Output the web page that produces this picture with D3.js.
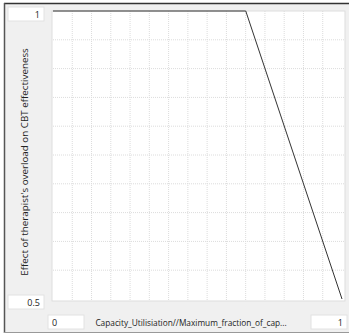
<!DOCTYPE html>
<html><head><meta charset="utf-8">
<script src="https://cdn.jsdelivr.net/npm/d3@7"></script>
<style>html,body{margin:0;padding:0;background:#fff;}svg{display:block;}</style>
</head><body>
<script>
const xValues = [0, 0.667, 1];
const yValues = [1, 1, 0.5];
const xDomain = [0, 1];
const yDomain = [0.5, 1];
const xTickLabels = ["0", "1"];
const yTickLabels = ["1", "0.5"];
const xTitle = "Capacity_Utilisiation//Maximum_fraction_of_cap...";
const yTitle = "Effect of therapist's overload on CBT effectiveness";

const W = 349, H = 333;
const font = "'Open Sans', 'Noto Sans', sans-serif";
const svg = d3.select("body").append("svg").attr("width", W).attr("height", H);

svg.append("rect").attr("width", W).attr("height", H).attr("fill", "#f0f0f0");
// frame
svg.append("rect").attr("x", 0).attr("y", 0).attr("width", W).attr("height", 3).attr("fill", "#fff");
svg.append("rect").attr("x", 0).attr("y", 0).attr("width", 4).attr("height", H).attr("fill", "#fff");
svg.append("line").attr("x1", 4).attr("x2", W).attr("y1", 3.5).attr("y2", 3.5).attr("stroke", "#333").attr("stroke-width", 1.5);
svg.append("line").attr("x1", 4.5).attr("x2", 4.5).attr("y1", 3).attr("y2", H).attr("stroke", "#555").attr("stroke-width", 1.5);
svg.append("line").attr("x1", 4).attr("x2", W).attr("y1", H - 0.5).attr("y2", H - 0.5).attr("stroke", "#999");

const L = 53, R = 342, T = 11, B = 299;
const x = d3.scaleLinear().domain(xDomain).range([L, R]);
const y = d3.scaleLinear().domain(yDomain).range([B, T]);

svg.append("rect").attr("x", L - 1).attr("y", T).attr("width", R - L + 4).attr("height", B - T + 2)
  .attr("fill", "#fff").attr("stroke", "#ddd");

const g = svg.append("g");
g.selectAll(".vg").data(d3.range(1, 15).map(i => i / 15)).join("line")
  .attr("x1", d => x(d)).attr("x2", d => x(d)).attr("y1", T).attr("y2", B + 1)
  .attr("stroke", "#dcdcdc").attr("stroke-dasharray", "1,1");
g.selectAll(".hg").data(d3.range(1, 10).map(i => 0.5 + i * 0.05)).join("line")
  .attr("x1", L).attr("x2", R + 2).attr("y1", d => y(d)).attr("y2", d => y(d))
  .attr("stroke", "#dcdcdc").attr("stroke-dasharray", "1,1");

const line = d3.line().x(d => x(d[0])).y(d => y(d[1]));
svg.append("path").datum(xValues.map((v, i) => [v, yValues[i]]))
  .attr("d", line).attr("fill", "none").attr("stroke", "#333").attr("stroke-width", 1);

function box(bx, by, bw, bh, txt, anchor) {
  svg.append("rect").attr("x", bx).attr("y", by).attr("width", bw).attr("height", bh)
    .attr("fill", "#fff").attr("stroke", "#e2e2e2");
  svg.append("text").attr("x", anchor === "end" ? bx + bw - 4 : bx + 4).attr("y", by + bh / 2 + 3.5)
    .attr("text-anchor", anchor).attr("font-family", font).attr("font-size", 9).attr("fill", "#222").text(txt);
}
box(8, 7, 36, 14, yTickLabels[0], "end");
box(8, 295, 36, 14, yTickLabels[1], "end");
box(48, 315, 36, 14, xTickLabels[0], "start");
box(311, 315, 36, 14, xTickLabels[1], "end");

svg.append("text").attr("x", 191).attr("y", 325.5).attr("text-anchor", "middle")
  .attr("font-family", font).attr("font-size", 8.3).attr("fill", "#222").text(xTitle);
svg.append("text").attr("transform", "translate(28,162) rotate(-90)").attr("text-anchor", "middle")
  .attr("font-family", font).attr("font-size", 9.8).attr("fill", "#222").text(yTitle);
</script>
</body></html>
